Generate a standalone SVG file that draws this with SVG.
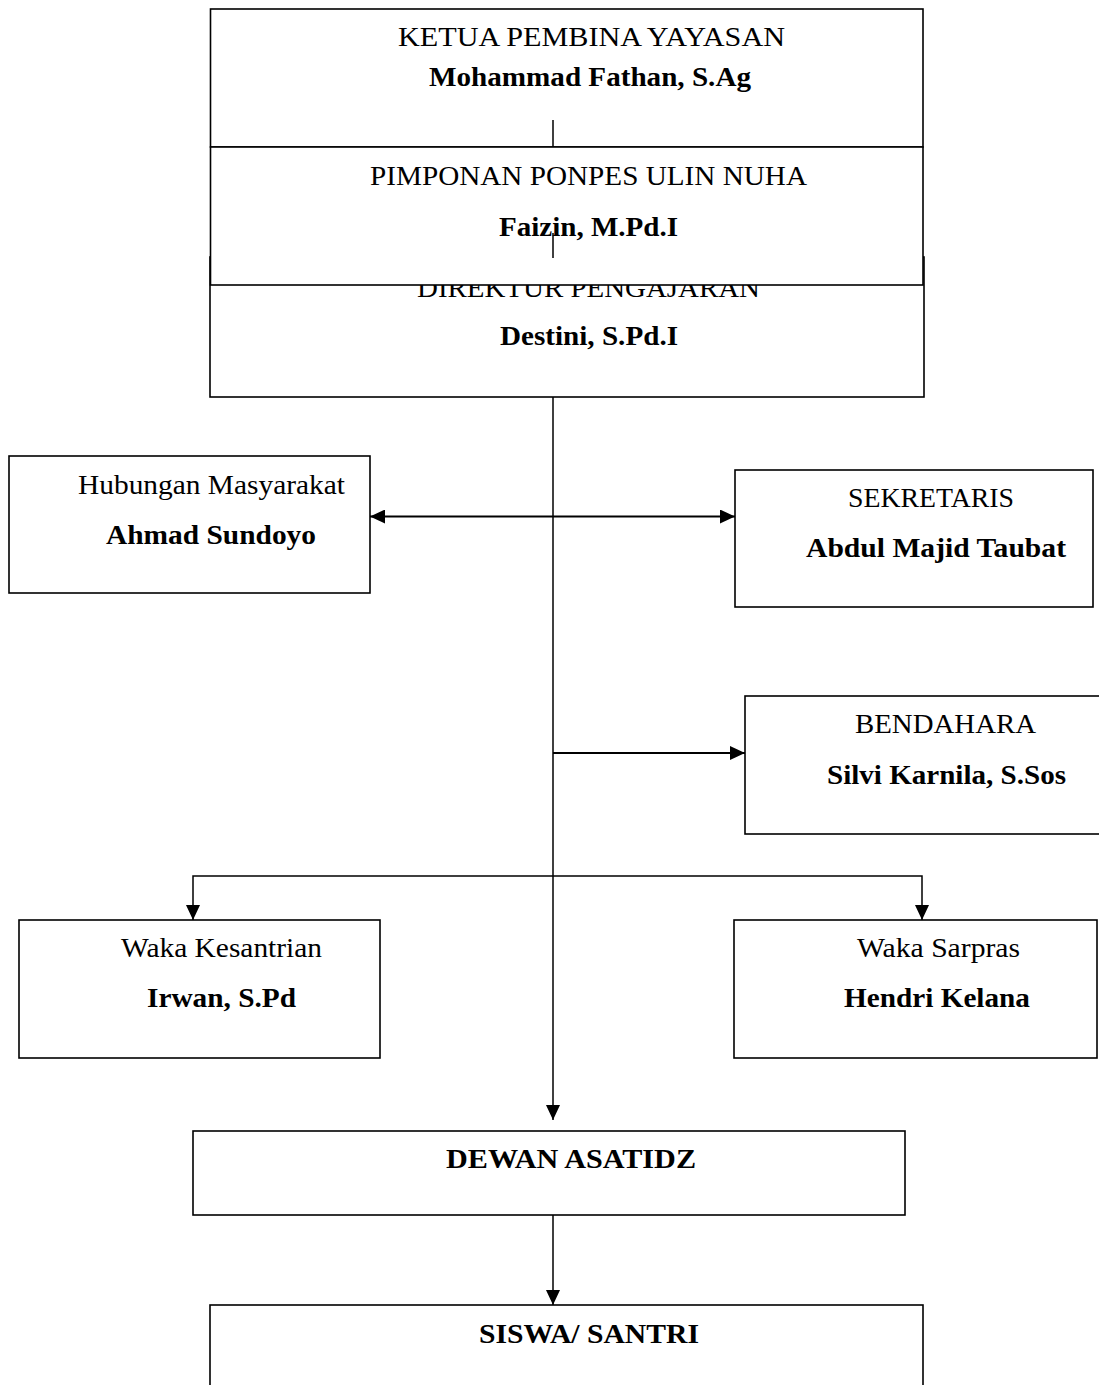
<svg xmlns="http://www.w3.org/2000/svg" width="1099" height="1385" viewBox="0 0 1099 1385">
<style>
.box{fill:#fff;stroke:#000;stroke-width:1.6}
.t{font-family:"Liberation Serif","Times New Roman",serif;font-size:28px;fill:#000}
.b{font-weight:bold}
.c{fill:none;stroke:#000;stroke-width:1.5}
.h{fill:none;stroke:#000;stroke-width:2}
</style>
<defs>
<marker id="arr" markerUnits="userSpaceOnUse" markerWidth="16" markerHeight="14" refX="15" refY="7" orient="auto-start-reverse">
<path d="M0,0 L15,7 L0,14 z" fill="#000"/>
</marker>
</defs>
<rect width="1099" height="1385" fill="#fff"/>
<g id="ketua">
<rect class="box" x="210.5" y="9" width="712.5" height="138"/>
<text class="t" x="398" y="46" textLength="387" lengthAdjust="spacingAndGlyphs">KETUA PEMBINA YAYASAN</text>
<text class="t b" x="429" y="86" textLength="322" lengthAdjust="spacingAndGlyphs">Mohammad Fathan, S.Ag</text>
</g>
<g id="direktur">
<rect class="box" x="210" y="257" width="714" height="140"/>
<text class="t" x="417" y="297" textLength="343" lengthAdjust="spacingAndGlyphs">DIREKTUR PENGAJARAN</text>
<text class="t b" x="500" y="345" textLength="178" lengthAdjust="spacingAndGlyphs">Destini, S.Pd.I</text>
</g>
<g id="pimpinan">
<rect class="box" x="210.5" y="147" width="712.5" height="138"/>
<text class="t" x="370" y="185" textLength="437" lengthAdjust="spacingAndGlyphs">PIMPONAN PONPES ULIN NUHA</text>
<text class="t b" x="499" y="236" textLength="179" lengthAdjust="spacingAndGlyphs">Faizin, M.Pd.I</text>
</g>
<g id="humas">
<rect class="box" x="9" y="456" width="361" height="137"/>
<text class="t" x="78" y="494" textLength="267" lengthAdjust="spacingAndGlyphs">Hubungan Masyarakat</text>
<text class="t b" x="106" y="544" textLength="210" lengthAdjust="spacingAndGlyphs">Ahmad Sundoyo</text>
</g>
<g id="sekretaris">
<rect class="box" x="735" y="470" width="358" height="137"/>
<text class="t" x="848" y="507" textLength="166" lengthAdjust="spacingAndGlyphs">SEKRETARIS</text>
<text class="t b" x="806" y="557" textLength="260" lengthAdjust="spacingAndGlyphs">Abdul Majid Taubat</text>
</g>
<g id="bendahara">
<rect class="box" x="745" y="696" width="360" height="138"/>
<text class="t" x="855" y="733" textLength="181" lengthAdjust="spacingAndGlyphs">BENDAHARA</text>
<text class="t b" x="827" y="784" textLength="239" lengthAdjust="spacingAndGlyphs">Silvi Karnila, S.Sos</text>
</g>
<g id="kesantrian">
<rect class="box" x="19" y="920" width="361" height="138"/>
<text class="t" x="121" y="957" textLength="201" lengthAdjust="spacingAndGlyphs">Waka Kesantrian</text>
<text class="t b" x="147" y="1007" textLength="149" lengthAdjust="spacingAndGlyphs">Irwan, S.Pd</text>
</g>
<g id="sarpras">
<rect class="box" x="734" y="920" width="363" height="138"/>
<text class="t" x="857" y="957" textLength="163" lengthAdjust="spacingAndGlyphs">Waka Sarpras</text>
<text class="t b" x="844" y="1007" textLength="186" lengthAdjust="spacingAndGlyphs">Hendri Kelana</text>
</g>
<g id="dewan">
<rect class="box" x="193" y="1131" width="712" height="84"/>
<text class="t b" x="446" y="1168" textLength="250" lengthAdjust="spacingAndGlyphs">DEWAN ASATIDZ</text>
</g>
<g id="siswa">
<rect class="box" x="210" y="1305" width="713" height="120"/>
<text class="t b" x="479" y="1343" textLength="220" lengthAdjust="spacingAndGlyphs">SISWA/ SANTRI</text>
</g>
<g id="connectors">
<line class="c" x1="553" y1="120" x2="553" y2="147"/>
<line class="c" x1="553" y1="233" x2="553" y2="258"/>
<line class="c" x1="553" y1="397" x2="553" y2="1120" marker-end="url(#arr)"/>
<line class="h" x1="370" y1="516.5" x2="735" y2="516.5" marker-start="url(#arr)" marker-end="url(#arr)"/>
<line class="h" x1="553" y1="753" x2="745" y2="753" marker-end="url(#arr)"/>
<polyline class="c" points="193,920 193,876 922,876 922,920" marker-start="url(#arr)" marker-end="url(#arr)"/>
<line class="c" x1="553" y1="1215" x2="553" y2="1305" marker-end="url(#arr)"/>
</g>
</svg>
